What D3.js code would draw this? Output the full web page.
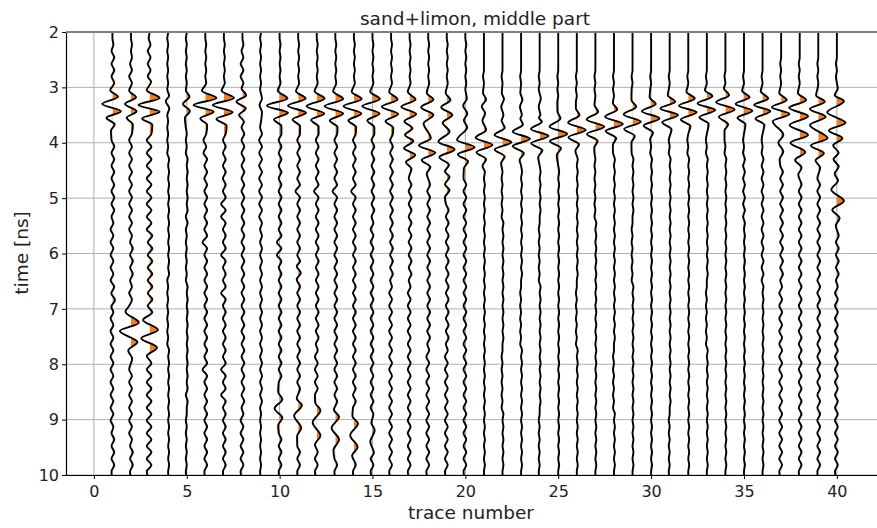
<!DOCTYPE html>
<html>
<head>
<script src="https://cdnjs.cloudflare.com/ajax/libs/d3/7.8.5/d3.min.js"></script>
<style>
    body { margin: 0; background: #fff; }
    svg { font-family: "DejaVu Sans", sans-serif; }
    .grid line { stroke: #b0b0b0; stroke-width: 1; }
    .trace { fill: none; stroke: #000; stroke-width: 1.9; }
    .fill { fill: #ff7f0e; stroke: none; }
</style>
</head>
<body>
<svg width="877" height="528"></svg>
<script>
// trace numbers (x positions)
const traces = [1,2,3,4,5,6,7,8,9,10,11,12,13,14,15,16,17,18,19,20,
                21,22,23,24,25,26,27,28,29,30,31,32,33,34,35,36,37,38,39,40];

// tick labels
const xTicks = [0, 5, 10, 15, 20, 25, 30, 35, 40];
const yTicks = [2, 3, 4, 5, 6, 7, 8, 9, 10];

// main reflections per trace: [time ns, amplitude in trace units]
const wavelets = [
    [[3.05,-0.12],[3.17,0.3],[3.3,-0.55],[3.43,0.46],[3.55,-0.32],[3.67,0.12],[3.78,-0.08],[6.72,-0.06],[6.84,0.14],[6.96,-0.06]],
    [[3.06,-0.1],[3.18,0.27],[3.3,-0.32],[3.43,0.3],[3.55,-0.23],[3.67,0.1],[7.05,-0.3],[7.25,0.42],[7.4,-0.6],[7.6,0.35],[7.75,-0.15],[7.9,0.06]],
    [[2.9,0.08],[3.05,-0.15],[3.19,0.54],[3.32,-0.6],[3.44,0.54],[3.56,-0.4],[3.68,0.15],[7.2,-0.35],[7.38,0.45],[7.53,-0.45],[7.7,0.4],[7.85,-0.15]],
    [[3.15,0.05],[3.25,-0.13],[3.38,0.06],[3.5,-0.05]],
    [[3.05,-0.05],[3.17,0.15],[3.3,-0.2],[3.43,0.17],[3.55,-0.1]],
    [[3.06,-0.18],[3.19,0.6],[3.32,-0.63],[3.44,0.45],[3.56,-0.27],[3.68,0.1]],
    [[3.06,-0.12],[3.19,0.54],[3.32,-0.6],[3.45,0.47],[3.57,-0.4],[3.69,0.15]],
    [[3.02,-0.05],[3.14,0.2],[3.26,-0.32],[3.38,0.18],[3.5,-0.18],[3.62,0.08]],
    [[3.2,0.05],[3.32,-0.08],[3.45,0.05]],
    [[3.06,-0.1],[3.2,0.42],[3.33,-0.68],[3.46,0.45],[3.58,-0.3],[3.7,0.1],[8.5,-0.08],[8.63,0.15],[8.8,-0.27],[8.97,0.15],[9.1,-0.08]],
    [[3.07,-0.12],[3.2,0.4],[3.33,-0.55],[3.46,0.42],[3.58,-0.3],[3.7,0.1],[6.23,-0.08],[6.35,0.14],[6.47,-0.08],[8.62,-0.08],[8.74,0.2],[8.93,-0.22],[9.15,0.16],[9.3,-0.06]],
    [[3.07,-0.12],[3.2,0.42],[3.34,-0.55],[3.47,0.4],[3.59,-0.3],[3.71,0.1],[8.7,-0.08],[8.83,0.2],[9.05,-0.22],[9.29,0.2],[9.45,-0.1]],
    [[3.07,-0.12],[3.21,0.42],[3.34,-0.58],[3.47,0.42],[3.6,-0.3],[3.72,0.12],[8.82,-0.08],[8.95,0.2],[9.15,-0.2],[9.36,0.2],[9.55,-0.1]],
    [[3.08,-0.12],[3.21,0.42],[3.34,-0.56],[3.47,0.4],[3.6,-0.3],[3.72,0.12],[8.94,-0.08],[9.07,0.22],[9.28,-0.2],[9.5,0.2],[9.65,-0.1]],
    [[3.08,-0.12],[3.21,0.4],[3.34,-0.55],[3.47,0.38],[3.6,-0.28],[3.72,0.1],[9.06,-0.06],[9.19,0.12],[9.4,-0.12],[9.6,0.08]],
    [[3.08,-0.1],[3.22,0.35],[3.35,-0.5],[3.48,0.38],[3.61,-0.3],[3.73,0.12]],
    [[3.08,-0.1],[3.22,0.32],[3.35,-0.45],[3.48,0.35],[3.61,-0.28],[3.74,0.15],[3.86,-0.25],[3.97,0.2],[4.1,-0.3],[4.22,0.3],[4.35,-0.2],[4.47,0.1]],
    [[3.1,-0.08],[3.22,0.28],[3.36,-0.38],[3.5,0.28],[3.65,-0.25],[3.92,0.14],[4.05,-0.5],[4.18,0.38],[4.31,-0.35],[4.44,0.12],[4.56,-0.08]],
    [[3.1,-0.06],[3.23,0.2],[3.36,-0.3],[3.5,0.3],[3.64,-0.22],[3.8,0.15],[3.98,-0.45],[4.12,0.42],[4.26,-0.4],[4.4,0.12],[4.52,-0.1],[4.62,0.15],[4.75,-0.1],[4.86,0.15],[4.98,-0.1]],
    [[3.2,0.08],[3.33,-0.12],[3.47,0.1],[3.6,-0.08],[3.72,0.1],[3.95,-0.45],[4.08,0.5],[4.21,-0.4],[4.34,0.15],[4.46,-0.08]],
    [[3.1,-0.05],[3.22,0.12],[3.34,-0.12],[3.47,0.06],[3.6,-0.08],[3.77,0.12],[3.91,-0.45],[4.04,0.46],[4.17,-0.4],[4.3,0.12],[4.42,-0.08]],
    [[3.1,-0.04],[3.21,0.08],[3.35,-0.07],[3.5,0.05],[3.6,-0.05],[3.73,0.12],[3.86,-0.43],[3.99,0.47],[4.12,-0.42],[4.25,0.12],[4.37,-0.08]],
    [[3.1,-0.04],[3.22,0.07],[3.35,-0.06],[3.5,0.04],[3.56,-0.04],[3.67,0.1],[3.8,-0.45],[3.93,0.48],[4.06,-0.45],[4.19,0.15],[4.31,-0.08]],
    [[3.2,0.06],[3.35,-0.05],[3.5,0.04],[3.55,-0.04],[3.62,0.12],[3.75,-0.47],[3.88,0.48],[4.01,-0.45],[4.14,0.15],[4.26,-0.08]],
    [[3.44,-0.04],[3.56,0.12],[3.71,-0.47],[3.84,0.48],[3.97,-0.45],[4.1,0.15],[4.22,-0.08]],
    [[3.38,-0.05],[3.5,0.15],[3.64,-0.47],[3.77,0.48],[3.9,-0.45],[4.03,0.12],[4.15,-0.08]],
    [[3.32,-0.05],[3.44,0.15],[3.58,-0.47],[3.71,0.48],[3.84,-0.45],[3.97,0.12],[4.09,-0.06]],
    [[3.28,-0.06],[3.4,0.18],[3.53,-0.48],[3.66,0.48],[3.79,-0.45],[3.92,0.12],[4.04,-0.06]],
    [[3.23,-0.06],[3.35,0.2],[3.49,-0.48],[3.62,0.45],[3.75,-0.45],[3.88,0.12],[4.0,-0.06]],
    [[3.18,-0.08],[3.3,0.25],[3.43,-0.5],[3.56,0.45],[3.69,-0.4],[3.82,0.1],[3.94,-0.05]],
    [[3.14,-0.1],[3.26,0.3],[3.38,-0.5],[3.5,0.45],[3.63,-0.4],[3.76,0.1]],
    [[3.08,-0.1],[3.2,0.35],[3.33,-0.5],[3.45,0.45],[3.58,-0.4],[3.7,0.12]],
    [[3.05,-0.1],[3.16,0.3],[3.29,-0.5],[3.41,0.45],[3.54,-0.4],[3.66,0.1]],
    [[3.02,-0.08],[3.14,0.2],[3.27,-0.5],[3.4,0.5],[3.53,-0.35],[3.67,0.15],[3.78,-0.05]],
    [[3.06,-0.1],[3.18,0.3],[3.3,-0.45],[3.42,0.45],[3.55,-0.35],[3.67,0.08]],
    [[3.07,-0.1],[3.2,0.3],[3.32,-0.45],[3.43,0.42],[3.56,-0.38],[3.68,0.1]],
    [[3.1,-0.1],[3.23,0.3],[3.36,-0.5],[3.48,0.45],[3.61,-0.45],[3.86,0.12],[4.0,-0.15],[4.16,0.12],[4.3,-0.08]],
    [[3.1,-0.1],[3.23,0.35],[3.37,-0.57],[3.52,0.45],[3.68,-0.55],[3.86,0.45],[4.0,-0.5],[4.17,0.3],[4.31,-0.25],[4.45,0.1],[4.58,-0.08]],
    [[3.14,-0.12],[3.26,0.35],[3.39,-0.45],[3.53,0.4],[3.68,-0.45],[3.92,0.5],[4.05,-0.4],[4.19,0.3],[4.32,-0.15],[4.45,0.1]],
    [[3.02,0.05],[3.14,-0.12],[3.25,0.38],[3.45,-0.52],[3.64,0.47],[3.78,-0.43],[3.92,0.3],[4.05,-0.2],[4.18,0.1],[4.3,-0.18],[4.43,0.1],[4.56,-0.12],[4.68,0.06],[4.85,-0.3],[5.05,0.38],[5.21,-0.25],[5.36,0.15],[5.5,-0.06]]
];

// background ringing: size of each successive swing (alternating right/left), 0.115 ns apart from 2 ns
const ringStart = 2.0;
const ringStep = 0.115;
const ringUnit = 0.05;
const ringing = [
    "0011212121 1111112121 2121212121 1212121212 2132121212 1212121212 1211212121",
    "0010111212 1111111212 1212121212 1211212121 1212121212 1212121212 1212112121",
    "0112121212 1212122323 2323232323 2332323232 3232323232 2323232323 2323232323",
    "0101010101 0101010101 1010101010 1010101011 0101010101 1010101010 1010101010",
    "0101010101 0101010101 1010101011 1101010101 1010101010 1010101110 0101010101",
    "0010101011 1111111212 2121212121 2123212121 2121212121 2123212121 2121212121",
    "0010101011 1111112121 2121212323 2121232121 2321212121 2123212321 2121212121",
    "0011121212 1111112121 2121212121 2121212121 2121212121 2121212121 1212121212",
    "0101010101 0101011212 1212121212 1111111111 1111111111 1111111111 0101010101",
    "0010101011 1111112121 2121212121 2123232121 2121212121 2121212121 2121212121",
    "0010101011 1111112121 2121232121 2121212121 2121212121 2121212121 2121212121",
    "0010101011 1111112121 2121232121 2121212121 2121212121 1212121212 1212121212",
    "0010101011 1111112121 2121232121 2121212121 2121212121 2121212121 2121212121",
    "0010101011 1111112121 2121232121 2121212121 2121212121 2121212121 2121212121",
    "0010101010 1111112121 2121212121 1212121212 1212121212 1212121212 1212121212",
    "0010101011 1111112121 2121212121 2121212121 1212121212 1212121212 1212121212",
    "0010101011 1111112121 2121212121 2121212121 1212121212 1212121212 1212121212",
    "0010101011 1111112121 2121212121 2121212121 2121212121 1212121212 1212121212",
    "0010101011 1111112121 2121212121 2121212121 2121212121 1212121212 1212121212",
    "0010101010 1111111212 1212121212 1212121212 1212121212 1212121212 1212121212",
    "0000000101 0101010101 1010101010 1010101010 1010101010 1010101010 1010101010",
    "0000000101 0101010101 0101010101 1010101010 1010101010 0101010101 1010101010",
    "0000000101 0101010101 1010101010 1010101010 0101010101 1010101010 1010101010",
    "0000000101 0101010101 1010101010 0101010101 1010101010 1010101010 0101010101",
    "0000000101 0101010101 1010101010 1010101010 1010101010 1010101010 1010101010",
    "0000000101 0101010101 1010101010 1010101010 0101010101 1010101010 1010101010",
    "0000000101 0101010101 0101010101 1010101010 1010101010 1010101010 1010101010",
    "0000000101 0101010101 1010101010 1010101010 1010101010 0101010101 1010101010",
    "0000000101 0101010101 1010101010 0101010101 1010101010 1010101010 1010101010",
    "0000000101 0101010101 1010101010 1010101010 1010101010 1010101010 1010101010",
    "0000000101 0101010101 1010101010 1010101010 1010101010 1010101010 0101010101",
    "0000000101 0101010101 1010101010 1010101010 1010101010 1010101010 1010101010",
    "0000000101 0101010101 1010101010 1010101010 0101010101 1010101010 1010101010",
    "0000000101 0101010101 1010101010 1010101010 1010101010 1010101010 1010101010",
    "0000000101 0101010101 1111111111 1010101010 1010101010 1010101010 1010101010",
    "0000000101 0101010101 1111111111 1111111111 1010101010 1010101010 1010101010",
    "0000010101 0101010101 2121212121 2121212121 1212121212 1212121212 1212121212",
    "0000010101 0101010101 2121212121 2121212121 2121212121 2121212121 2121212121",
    "0000010101 0101010101 2121212121 2121212121 2121212121 2121212121 2121212121",
    "0000010101 0101010101 2121212121 2121212121 1212121212 1212121212 1212121212"
];

const svg = d3.select("svg");
const x = d3.scaleLinear().domain([-1.5, 42.5]).range([66, 66 + 44 * 18.575]);
const y = d3.scaleLinear().domain([2, 10]).range([32, 475]);

// grid
const grid = svg.append("g").attr("class", "grid");
grid.selectAll(".gx").data(xTicks).join("line")
    .attr("x1", d => x(d)).attr("x2", d => x(d))
    .attr("y1", y(2)).attr("y2", y(10));
grid.selectAll(".gy").data(yTicks).join("line")
    .attr("x1", x(-1.5)).attr("x2", 877)
    .attr("y1", d => y(d)).attr("y2", d => y(d));

svg.append("clipPath").attr("id", "plot")
    .append("rect").attr("x", 66).attr("y", y(2)).attr("width", 877 - 66).attr("height", y(10) - y(2));

// build knots for each trace
function knots(i) {
    const ev = wavelets[i].slice().sort((a, b) => a[0] - b[0]);
    const wins = [];
    ev.forEach((p, k) => {
        if (k === 0 || p[0] - ev[k - 1][0] > 0.3) wins.push([p[0], p[0]]);
        else wins[wins.length - 1][1] = p[0];
    });
    const digits = ringing[i].replace(/\s/g, "");
    const pts = ev.map(p => [p[0], p[1]]);
    for (let k = 0; k < digits.length; k++) {
        const t = ringStart + k * ringStep;
        if (wins.some(w => t > w[0] - 0.09 && t < w[1] + 0.09)) continue;
        pts.push([t, (k % 2 === 0 ? 1 : -1) * (+digits[k]) * ringUnit]);
    }
    pts.push([1.9, 0], [10.1, 0]);
    pts.sort((a, b) => a[0] - b[0]);
    return pts;
}

const body = svg.append("g").attr("clip-path", "url(#plot)");

traces.forEach((tr, i) => {
    const pts = knots(i);
    const base = x(tr);
    const cid = "pos" + tr;
    svg.append("clipPath").attr("id", cid)
        .append("rect").attr("x", base).attr("y", 0).attr("width", 40).attr("height", 528);
    const area = d3.area()
        .y(d => y(d[0]))
        .x0(base)
        .x1(d => x(tr + d[1]))
        .curve(d3.curveMonotoneY);
    body.append("g").attr("clip-path", `url(#${cid})`)
        .append("path").attr("class", "fill").attr("d", area(pts));
    const line = d3.line()
        .y(d => y(d[0]))
        .x(d => x(tr + d[1]))
        .curve(d3.curveMonotoneY);
    body.append("path").attr("class", "trace").attr("d", line(pts));
});

// axes
const xAxis = svg.append("g").attr("transform", `translate(0,${y(10)})`)
    .call(d3.axisBottom(x).tickValues(xTicks).tickSize(4).tickSizeOuter(0));
const yAxis = svg.append("g").attr("transform", `translate(66,0)`)
    .call(d3.axisLeft(y).tickValues(yTicks).tickSize(4).tickSizeOuter(0));
[xAxis, yAxis].forEach(a => {
    a.select(".domain").attr("stroke", "#000").attr("stroke-width", 1.2);
    a.selectAll(".tick line").attr("stroke", "#000");
    a.selectAll(".tick text").attr("font-size", 16).attr("fill", "#222")
        .attr("font-family", "DejaVu Sans");
});
xAxis.selectAll(".tick text").attr("dy", "0.95em");

// top edge
svg.append("line").attr("x1", 66).attr("x2", 877).attr("y1", y(2)).attr("y2", y(2))
    .attr("stroke", "#808080").attr("stroke-width", 2);

// labels
svg.append("text").attr("x", 471).attr("y", 519).attr("text-anchor", "middle")
    .attr("font-size", 18.5).attr("fill", "#222").text("trace number");
svg.append("text").attr("transform", "translate(28,253) rotate(-90)").attr("text-anchor", "middle")
    .attr("font-size", 18.5).attr("fill", "#222").text("time [ns]");
svg.append("text").attr("x", 475).attr("y", 25).attr("text-anchor", "middle")
    .attr("font-size", 18.5).attr("fill", "#222").text("sand+limon, middle part");
</script>
</body>
</html>
